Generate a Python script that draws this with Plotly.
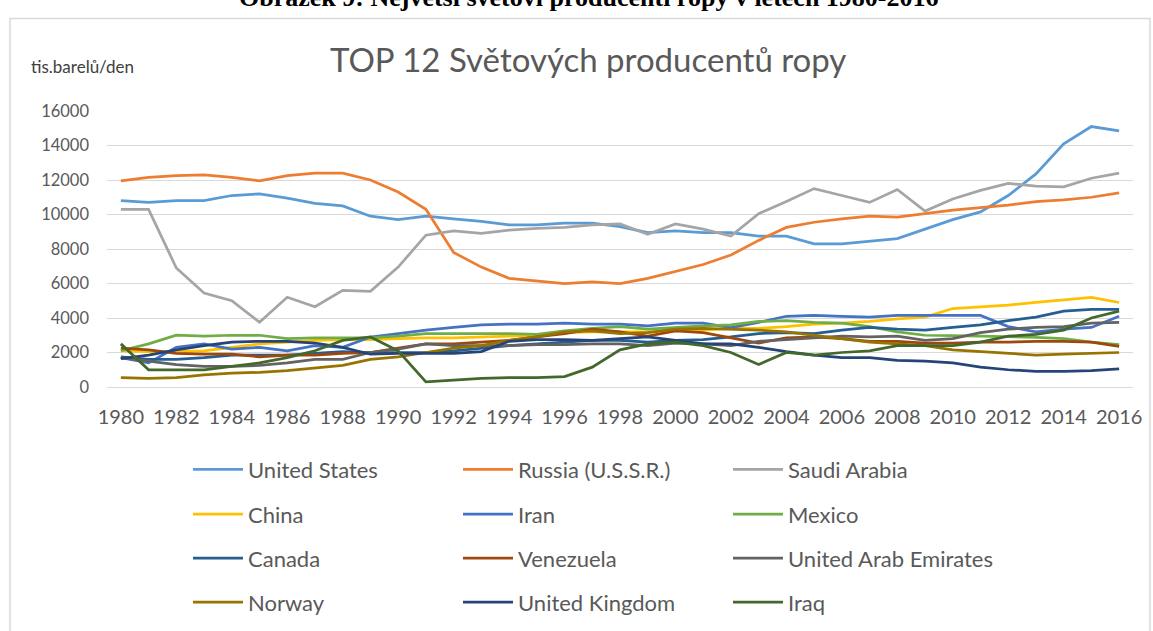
import plotly.graph_objects as go

years = list(range(1980, 2017))
tick_years = list(range(1980, 2017, 2))
tick_labels = [str(y) for y in tick_years]

united_states = [10800, 10700, 10800, 10800, 11100, 11200, 10950, 10650, 10500, 9900,
                 9700, 9900, 9750, 9600, 9400, 9400, 9500, 9500, 9300, 8950,
                 9050, 8950, 8950, 8750, 8750, 8300, 8300, 8450, 8600, 9150,
                 9700, 10150, 11100, 12350, 14100, 15100, 14850]
russia = [11950, 12150, 12250, 12300, 12150, 11950, 12250, 12400, 12400, 12000,
          11300, 10300, 7800, 6950, 6300, 6150, 6000, 6100, 6000, 6300,
          6700, 7100, 7650, 8500, 9250, 9550, 9750, 9900, 9850, 10050,
          10250, 10400, 10550, 10750, 10850, 11000, 11250]
saudi_arabia = [10300, 10300, 6900, 5450, 5000, 3750, 5200, 4650, 5600, 5550,
                6950, 8800, 9050, 8900, 9100, 9200, 9250, 9400, 9450, 8850,
                9450, 9150, 8750, 10050, 10750, 11500, 11100, 10700, 11450, 10200,
                10900, 11400, 11800, 11650, 11600, 12100, 12400]
china = [2100, 2050, 2050, 2100, 2300, 2500, 2600, 2700, 2750, 2750,
         2800, 2850, 2850, 2900, 2950, 3000, 3150, 3200, 3200, 3200,
         3250, 3300, 3400, 3400, 3500, 3650, 3700, 3800, 3950, 4050,
         4550, 4650, 4750, 4900, 5050, 5200, 4900]
iran = [1700, 1400, 2300, 2500, 2200, 2300, 2100, 2400, 2300, 2900,
        3100, 3300, 3450, 3600, 3650, 3650, 3700, 3650, 3650, 3550,
        3700, 3700, 3450, 3750, 4100, 4150, 4100, 4050, 4150, 4150,
        4150, 4150, 3500, 3200, 3350, 3450, 4100]
mexico = [2100, 2500, 3000, 2950, 3000, 3000, 2800, 2850, 2850, 2850,
          2950, 3100, 3100, 3100, 3100, 3050, 3250, 3400, 3500, 3350,
          3450, 3550, 3600, 3800, 3850, 3750, 3700, 3500, 3200, 3000,
          2980, 2950, 2920, 2880, 2800, 2600, 2450]
canada = [1750, 1600, 1600, 1700, 1850, 1850, 1850, 1950, 2050, 2000,
          2000, 2000, 2100, 2250, 2400, 2500, 2600, 2700, 2700, 2600,
          2700, 2750, 2900, 3100, 3150, 3100, 3300, 3450, 3350, 3300,
          3450, 3600, 3850, 4050, 4400, 4500, 4500]
venezuela = [2250, 2150, 1950, 1900, 1900, 1750, 1850, 1850, 1950, 2000,
             2250, 2500, 2500, 2600, 2700, 2900, 3100, 3350, 3200, 2950,
             3250, 3150, 2850, 2550, 2850, 2900, 2800, 2650, 2650, 2550,
             2550, 2600, 2600, 2650, 2650, 2600, 2350]
uae = [1700, 1500, 1300, 1200, 1200, 1250, 1400, 1600, 1600, 2000,
       2200, 2500, 2400, 2400, 2400, 2450, 2450, 2500, 2500, 2400,
       2550, 2500, 2400, 2650, 2750, 2850, 2950, 2900, 2950, 2700,
       2800, 3150, 3350, 3450, 3500, 3700, 3750]
norway = [550, 500, 550, 700, 800, 850, 950, 1100, 1250, 1600,
          1750, 2000, 2250, 2400, 2700, 2900, 3200, 3250, 3100, 3150,
          3350, 3400, 3350, 3300, 3200, 3000, 2800, 2600, 2500, 2400,
          2150, 2050, 1950, 1850, 1900, 1950, 2000]
united_kingdom = [1650, 1850, 2150, 2400, 2600, 2650, 2650, 2550, 2300, 1900,
                  1950, 1950, 1950, 2050, 2650, 2750, 2750, 2700, 2800, 2900,
                  2700, 2500, 2500, 2300, 2050, 1850, 1700, 1700, 1550, 1500,
                  1400, 1150, 1000, 900, 900, 950, 1050]
iraq = [2500, 1000, 1000, 1000, 1200, 1400, 1700, 2100, 2700, 2900,
        2100, 300, 400, 500, 550, 550, 600, 1150, 2150, 2500,
        2600, 2400, 2000, 1300, 2000, 1850, 2000, 2100, 2400, 2400,
        2400, 2600, 2950, 3050, 3300, 4000, 4400]

series_names = ["United States", "Russia (U.S.S.R.)", "Saudi Arabia",
                "China", "Iran", "Mexico",
                "Canada", "Venezuela", "United Arab Emirates",
                "Norway", "United Kingdom", "Iraq"]
series_values = [united_states, russia, saudi_arabia, china, iran, mexico,
                 canada, venezuela, uae, norway, united_kingdom, iraq]
series_colors = ["#5B9BD5", "#ED7D31", "#A5A5A5", "#FFC000", "#4472C4", "#70AD47",
                 "#255E91", "#9E480E", "#636363", "#997300", "#264478", "#43682B"]

W, H = 1153, 631
PL, PR = 107, 1133
PT, PB = 110.7, 387.3


def px_x(px):
    return (px - PL) / (PR - PL)


def px_y(py):
    return (PB - py) / (PB - PT)


FONT = "Lato, 'Open Sans', sans-serif"
GREY = "#595959"

fig = go.Figure()
legend_ids = ["legend", "legend2", "legend3", "legend4"]
for i, (name, vals, col) in enumerate(zip(series_names, series_values, series_colors)):
    fig.add_trace(go.Scatter(
        x=years, y=vals, name=name, mode="lines",
        line=dict(color=col, width=2.75),
        legend=legend_ids[i // 3],
    ))

legend_rows_px = [470, 515, 559, 603]
legend_common = dict(orientation="h", xanchor="left", yanchor="middle",
                     x=px_x(188), entrywidth=205, entrywidthmode="pixels",
                     itemwidth=50,
                     font=dict(family=FONT, size=22, color=GREY),
                     bgcolor="rgba(0,0,0,0)", traceorder="normal")
legend_layout = {}
for lid, py in zip(legend_ids, legend_rows_px):
    legend_layout[lid] = dict(legend_common, y=px_y(py))

fig.update_layout(
    width=W, height=H,
    margin=dict(l=PL, r=W - PR, t=PT, b=H - PB, autoexpand=False),
    paper_bgcolor="white", plot_bgcolor="white",
    showlegend=True,
    xaxis=dict(range=[1979.5, 2016.5],
               tickmode="array", tickvals=tick_years, ticktext=tick_labels,
               showgrid=False, zeroline=False, ticks="", showline=False,
               ticklabelstandoff=16, fixedrange=True,
               tickfont=dict(family=FONT, size=20, color=GREY)),
    yaxis=dict(range=[0, 16000], dtick=2000, tickformat="d",
               showgrid=True, gridcolor="#D9D9D9", gridwidth=1,
               zeroline=True, zerolinecolor="#D9D9D9", zerolinewidth=1,
               ticks="", showline=False, ticklabelstandoff=17, fixedrange=True,
               tickfont=dict(family=FONT, size=16.5, color=GREY)),
    **legend_layout,
)

fig.add_annotation(text="TOP 12 Světových producentů ropy", xref="paper", yref="paper",
                   x=px_x(588), y=px_y(59), xanchor="center", yanchor="middle",
                   showarrow=False, font=dict(family=FONT, size=33, color=GREY))
fig.add_annotation(text="tis.barelů/den", xref="paper", yref="paper",
                   x=px_x(29), y=px_y(66), xanchor="left", yanchor="middle",
                   showarrow=False, font=dict(family=FONT, size=17, color="#404040"))
fig.add_annotation(text="<b>Obrázek 9: Největší světoví producenti ropy v letech 1980-2016</b>",
                   xref="paper", yref="paper",
                   x=px_x(589), y=px_y(-3), xanchor="center", yanchor="middle",
                   showarrow=False,
                   font=dict(family="'Liberation Serif', 'Times New Roman', serif", size=26,
                             color="black"))

fig.add_shape(type="rect", xref="paper", yref="paper",
              x0=px_x(10), x1=px_x(1150), y0=px_y(700), y1=px_y(18),
              line=dict(color="#D9D9D9", width=1.5), fillcolor="rgba(0,0,0,0)",
              layer="below")

fig.write_html("out.html", config={"displayModeBar": False},
               post_script="document.body.style.margin='0';")
